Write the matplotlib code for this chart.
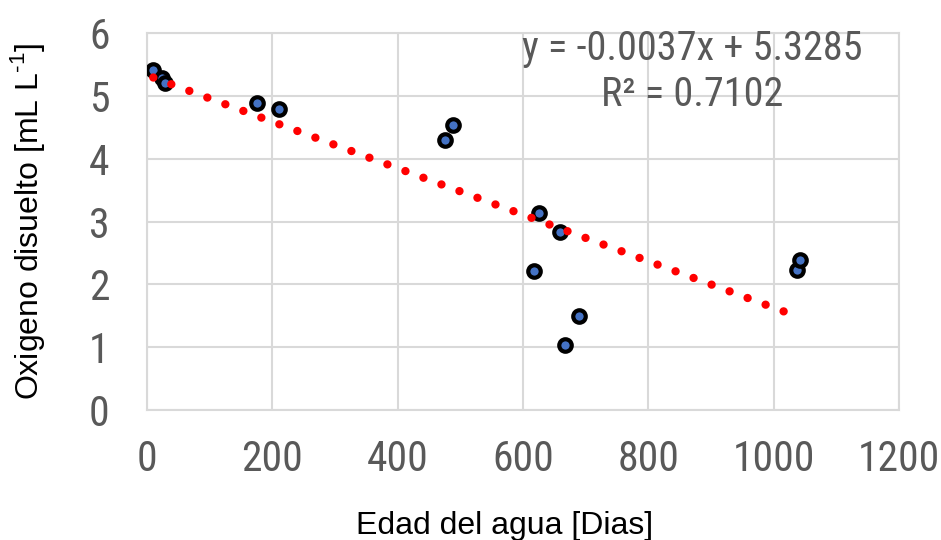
import matplotlib
matplotlib.use("Agg")
import matplotlib.pyplot as plt
from matplotlib import font_manager as fm
import numpy as np

# Water age (days) vs dissolved oxygen (mL/L)
edad_dias = [10, 24, 29, 176, 211, 476, 488, 618, 625, 659, 667, 689, 1037, 1042]
oxigeno = [5.41, 5.29, 5.21, 4.88, 4.79, 4.29, 4.53, 2.22, 3.13, 2.84, 1.04, 1.50, 2.23, 2.39]

# Linear trend reported on the chart
pendiente = -0.0037
intercepto = 5.3285
r2 = 0.7102

x_ticks = [0, 200, 400, 600, 800, 1000, 1200]
y_ticks = [0, 1, 2, 3, 4, 5, 6]

# Pick a narrow sans face for the numbers if one is installed
fonts = fm.fontManager.ttflist
names = {f.name for f in fonts}
narrow_family, narrow_stretch = "Liberation Sans", "normal"
for cand in ["Liberation Sans Narrow", "Arial Narrow", "Roboto Condensed",
             "Noto Sans Condensed", "Open Sans Condensed", "DejaVu Sans Condensed"]:
    if cand in names:
        narrow_family = cand
        break
else:
    cond = [f for f in fonts if (isinstance(f.stretch, (int, float)) and f.stretch < 500
                                 or str(f.stretch) in ("condensed", "semi-condensed", "extra-condensed"))
            and f.name in ("Noto Sans", "Open Sans", "DejaVu Sans", "Roboto", "Inter")]
    if cond:
        narrow_family, narrow_stretch = cond[0].name, "condensed"
regular = "Liberation Sans"

plt.rcParams["mathtext.fontset"] = "custom"
plt.rcParams["mathtext.rm"] = regular
plt.rcParams["axes.unicode_minus"] = False

GRAY_TXT = "#595959"
GRID = "#d9d9d9"

fig = plt.figure(figsize=(9.41, 5.40), dpi=100)
ax = fig.add_axes([147 / 941, 1 - 410 / 540, (899 - 147) / 941, (410 - 33) / 540])

ax.scatter(edad_dias, oxigeno, s=9.0 ** 2, facecolor="#4472C4",
           edgecolor="black", linewidths=3.0, zorder=3)

xt = np.array([min(edad_dias), max(edad_dias)])
ax.plot(xt, pendiente * xt + intercepto, color="#ff0000", lw=6.0,
        ls=(0, (0.01, 2.295)), dash_capstyle="round", zorder=4)

ax.set_xlim(0, 1200)
ax.set_ylim(0, 6)
ax.set_xticks(x_ticks)
ax.set_yticks(y_ticks)
ax.grid(True, color=GRID, lw=1.5)
ax.set_axisbelow(True)
for s in ax.spines.values():
    s.set_color(GRID)
    s.set_linewidth(1.5)

ax.tick_params(length=0, labelcolor=GRAY_TXT)
ax.tick_params(axis="x", pad=21)
ax.tick_params(axis="y", pad=27)
for lab in ax.get_xticklabels() + ax.get_yticklabels():
    lab.set_fontfamily(narrow_family)
    lab.set_fontstretch(narrow_stretch)
    lab.set_fontsize(30)

fig.text(692 / 941, 1 - 48 / 540, f"y = {pendiente}x + {intercepto}",
         ha="center", va="center", fontsize=29, family=narrow_family,
         stretch=narrow_stretch, color=GRAY_TXT)
fig.text(692 / 941, 1 - 95 / 540, f"R² = {r2}",
         ha="center", va="center", fontsize=29, family=narrow_family,
         stretch=narrow_stretch, color=GRAY_TXT)

fig.text(28 / 941, 1 - 221 / 540, "Oxigeno disuelto [mL L$^{\\mathregular{\u2010 1}}$]",
         rotation=90, ha="center", va="center", fontsize=23, family=regular, color="black")
fig.text(505 / 941, 1 - 534 / 540, "Edad del agua [Dias]",
         ha="center", va="baseline", fontsize=23, family=regular, color="black")

fig.savefig("out.png", dpi=100)
